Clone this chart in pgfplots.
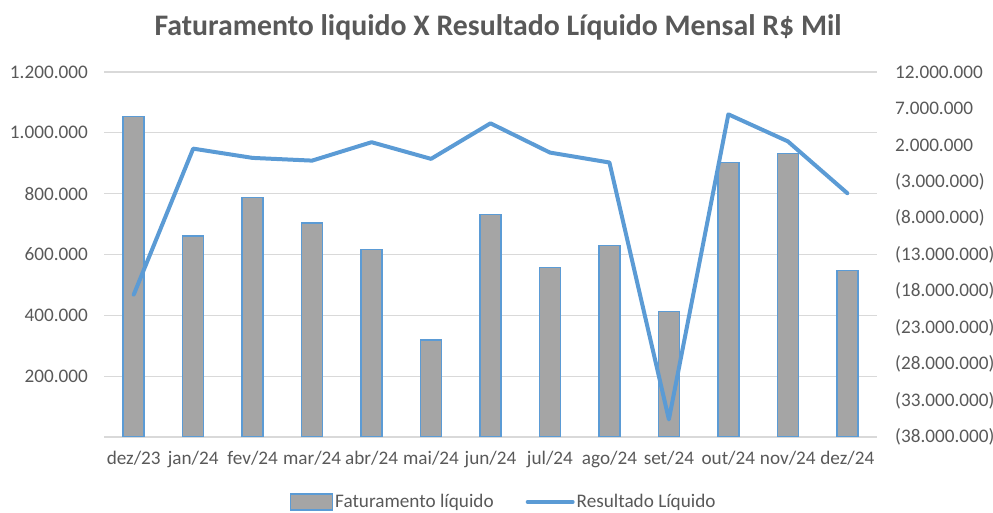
\documentclass[border=0pt]{standalone}
\usepackage{fontspec}
\setmainfont{Carlito}
\usepackage{pgfplots}
\pgfplotsset{compat=1.18}
\definecolor{barfill}{HTML}{A5A5A5}
\definecolor{lineblue}{HTML}{5B9BD5}
\definecolor{txt}{HTML}{595959}
\definecolor{gridc}{HTML}{D9D9D9}
\newcommand{\tfont}{\fontsize{19.2bp}{23bp}\selectfont}
\begin{document}
\begin{tikzpicture}[x=1bp,y=1bp]
\useasboundingbox (0,0) rectangle (993,513);
\node[font=\fontsize{29.8bp}{34bp}\selectfont\bfseries, text=txt] at (498,486) {Faturamento liquido X Resultado Líquido Mensal R\$ Mil};
\begin{axis}[
  at={(104bp,76bp)}, anchor=south west,
  scale only axis, width=773bp, height=365bp,
  xmin=-0.5, xmax=12.5, ymin=0, ymax=1200000,
  axis x line*=bottom, axis y line*=left,
  x axis line style={draw=gridc, line width=1.2bp, -},
  y axis line style={draw=none},
  major y tick style={draw=none},
  major x tick style={draw=none},
  scaled y ticks=false,
  ytick={200000,400000,600000,800000,1000000,1200000},
  yticklabels={200.000,400.000,600.000,800.000,1.000.000,1.200.000},
  ymajorgrids, grid style={draw=gridc, line width=1.2bp},
  xtick={0,...,12},
  xticklabels={dez/23,jan/24,fev/24,mar/24,abr/24,mai/24,jun/24,jul/24,ago/24,set/24,out/24,nov/24,dez/24},
  extra x ticks={-0.5,0.5,1.5,2.5,3.5,4.5,5.5,6.5,7.5,8.5,9.5,10.5,11.5,12.5},
  extra x tick labels={},
  extra x tick style={tick align=outside, major tick length=6bp, major tick style={draw=gridc, line width=1.2bp}},
  xticklabel style={font=\tfont, text=txt, inner sep=0pt, yshift=-14bp},
  yticklabel style={font=\tfont, text=txt, inner sep=0pt, xshift=-16bp},
]
\addplot[ybar, bar width=21bp, fill=barfill, draw=lineblue, line width=1.5bp] coordinates {
(0,1053000) (1,661000) (2,787000) (3,703000) (4,617000) (5,319000) (6,732000)
(7,557000) (8,630000) (9,413000) (10,902000) (11,932000) (12,548000)};
\end{axis}
\begin{axis}[
  at={(104bp,76bp)}, anchor=south west,
  scale only axis, width=773bp, height=365bp,
  xmin=-0.5, xmax=12.5, ymin=-38000000, ymax=12000000,
  axis x line=none, axis y line*=right,
  y axis line style={draw=none},
  major y tick style={draw=none},
  scaled y ticks=false,
  ytick={-38000000,-33000000,-28000000,-23000000,-18000000,-13000000,-8000000,-3000000,2000000,7000000,12000000},
  yticklabels={(38.000.000),(33.000.000),(28.000.000),(23.000.000),(18.000.000),(13.000.000),(8.000.000),(3.000.000),2.000.000,7.000.000,12.000.000},
  yticklabel style={font=\tfont, text=txt, inner sep=0pt, anchor=west, xshift=18bp},
  legend style={draw=none, fill=none, font=\tfont, text=txt, legend columns=2,
    at={(axis description cs:0.517,-0.178)}, anchor=center,
    /tikz/every even column/.append style={column sep=30bp}},
  legend cell align=left,
]
\addlegendimage{legend image code/.code={\draw[fill=barfill, draw=lineblue, line width=1.5bp] (0bp,-8bp) rectangle (42bp,8bp);}}
\addlegendentry{Faturamento líquido}
\addplot[lineblue, line width=4bp, line cap=round, line join=round,
  legend image code/.code={\draw[lineblue, line width=4bp] (0bp,0bp) -- (45bp,0bp);}] coordinates {
(0,-18500000) (1,1500000) (2,230000) (3,-140000) (4,2380000) (5,100000) (6,4970000)
(7,960000) (8,-400000) (9,-35600000) (10,6200000) (11,2500000) (12,-4600000)};
\addlegendentry{Resultado Líquido}
\end{axis}
\end{tikzpicture}
\end{document}
